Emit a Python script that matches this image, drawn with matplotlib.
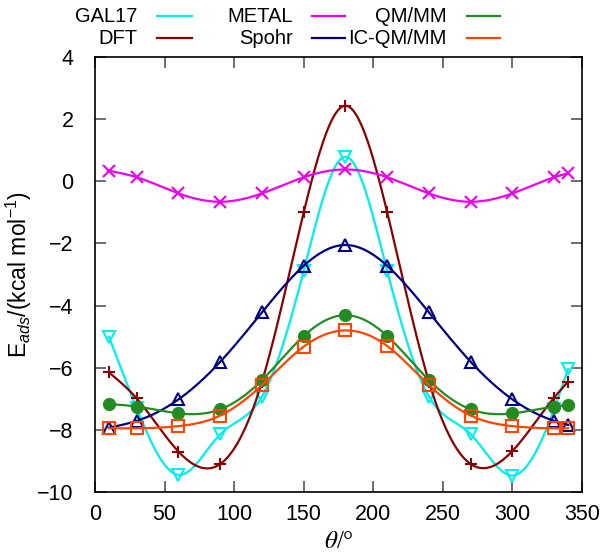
import numpy as np
import matplotlib
matplotlib.use("Agg")
import matplotlib.pyplot as plt
from matplotlib.lines import Line2D

plt.rcParams["font.family"] = ["Liberation Sans", "DejaVu Sans"]
plt.rcParams["font.size"] = 15.5
plt.rcParams["mathtext.fontset"] = "custom"
plt.rcParams["mathtext.rm"] = "Liberation Sans"
plt.rcParams["mathtext.it"] = "Liberation Sans:italic"

# uhel a energie adsorpce (kcal/mol)
theta = [10, 30, 60, 90, 120, 150, 180, 210, 240, 270, 300, 330, 340]
gal17 = [-5.0, -7.31, -9.45, -8.14, -6.93, -2.88, 0.79, -2.88, -6.93, -8.14, -9.47, -7.33, -6.04]
dft = [-6.15, -6.99, -8.70, -9.10, -6.45, -1.0, 2.43, -1.0, -6.45, -9.10, -8.68, -6.96, -6.45]
metal = [0.34, 0.13, -0.39, -0.66, -0.39, 0.13, 0.38, 0.13, -0.39, -0.66, -0.39, 0.13, 0.26]
spohr = [-7.93, -7.71, -7.02, -5.81, -4.22, -2.72, -2.05, -2.72, -4.22, -5.81, -7.02, -7.71, -7.84]
qmmm = [-7.17, -7.25, -7.47, -7.34, -6.40, -4.98, -4.31, -4.98, -6.40, -7.34, -7.47, -7.25, -7.20]
icqmmm = [-7.95, -7.95, -7.88, -7.54, -6.56, -5.32, -4.80, -5.30, -6.56, -7.54, -7.88, -7.95, -7.95]


def natural_spline(x, y, n=400):
    # prirozeny kubicky spline (jako gnuplot smooth csplines)
    x = np.asarray(x, float)
    y = np.asarray(y, float)
    k = len(x)
    h = np.diff(x)
    A = np.zeros((k, k))
    b = np.zeros(k)
    A[0, 0] = 1
    A[-1, -1] = 1
    for i in range(1, k - 1):
        A[i, i - 1] = h[i - 1]
        A[i, i] = 2 * (h[i - 1] + h[i])
        A[i, i + 1] = h[i]
        b[i] = 3 * ((y[i + 1] - y[i]) / h[i] - (y[i] - y[i - 1]) / h[i - 1])
    c = np.linalg.solve(A, b)
    xs = np.linspace(x[0], x[-1], n)
    ys = np.empty_like(xs)
    for j, xv in enumerate(xs):
        i = min(np.searchsorted(x, xv, side="right") - 1, k - 2)
        dx = xv - x[i]
        bi = (y[i + 1] - y[i]) / h[i] - h[i] * (2 * c[i] + c[i + 1]) / 3
        di = (c[i + 1] - c[i]) / (3 * h[i])
        ys[j] = y[i] + bi * dx + c[i] * dx ** 2 + di * dx ** 3
    return xs, ys


series = [
    ("GAL17", gal17, "#00eeee", "v", "none"),
    ("DFT", dft, "#8b0000", "+", None),
    ("METAL", metal, "#ee00ee", "x", None),
    ("Spohr", spohr, "#000080", "^", "none"),
    ("QM/MM", qmmm, "#228b22", "o", None),
    ("IC-QM/MM", icqmmm, "#ff4500", "s", "none"),
]

W, H = 603, 555
fig = plt.figure(figsize=(W / 100, H / 100), dpi=100)
ax = fig.add_axes([95 / W, 1 - 492 / H, 487 / W, 435 / H])

for name, vals, col, mk, fc in series:
    xs, ys = natural_spline(theta, vals)
    ax.plot(xs, ys, color=col, lw=1.6)
    ax.plot(theta, vals, ls="none", marker=mk, color=col, ms=8, mew=1.5,
            mfc=(col if fc is None else fc))

ax.set_xlim(0, 350)
ax.set_ylim(-10, 4)
ax.set_xticks(range(0, 351, 50))
ax.set_yticks(range(-10, 5, 2))
ax.tick_params(direction="in", length=8, width=1.2, color="#555555",
               top=True, right=True)
ax.tick_params(axis="x", pad=9)
ax.tick_params(axis="y", pad=15.5)
for s in ax.spines.values():
    s.set_linewidth(1.2)
ax.set_ylabel(r"E$_{\mathit{ads}}$/(kcal mol$^{\mathrm{-1}}$)", fontsize=16.5, labelpad=2)
ax.set_xlabel(r"$\theta$/°", family="Liberation Serif", math_fontfamily="stix",
              fontsize=18, labelpad=4)

# legenda ve stylu gnuplotu (text vpravo zarovnany, pak cara)
text_right = [137, 293, 447]
line_x = [(157, 192), (312, 345), (467, 500)]
rows = [16, 38]
for i, (name, vals, col, mk, fc) in enumerate(series):
    c, r = i // 2, i % 2
    fig.text(text_right[c] / W, 1 - rows[r] / H, name, ha="right", va="center",
             fontsize=14.5)
    x0, x1 = line_x[c]
    fig.add_artist(Line2D([x0 / W, x1 / W], [1 - rows[r] / H] * 2,
                          transform=fig.transFigure, color=col, lw=1.6))

fig.savefig("out.png", dpi=100)
